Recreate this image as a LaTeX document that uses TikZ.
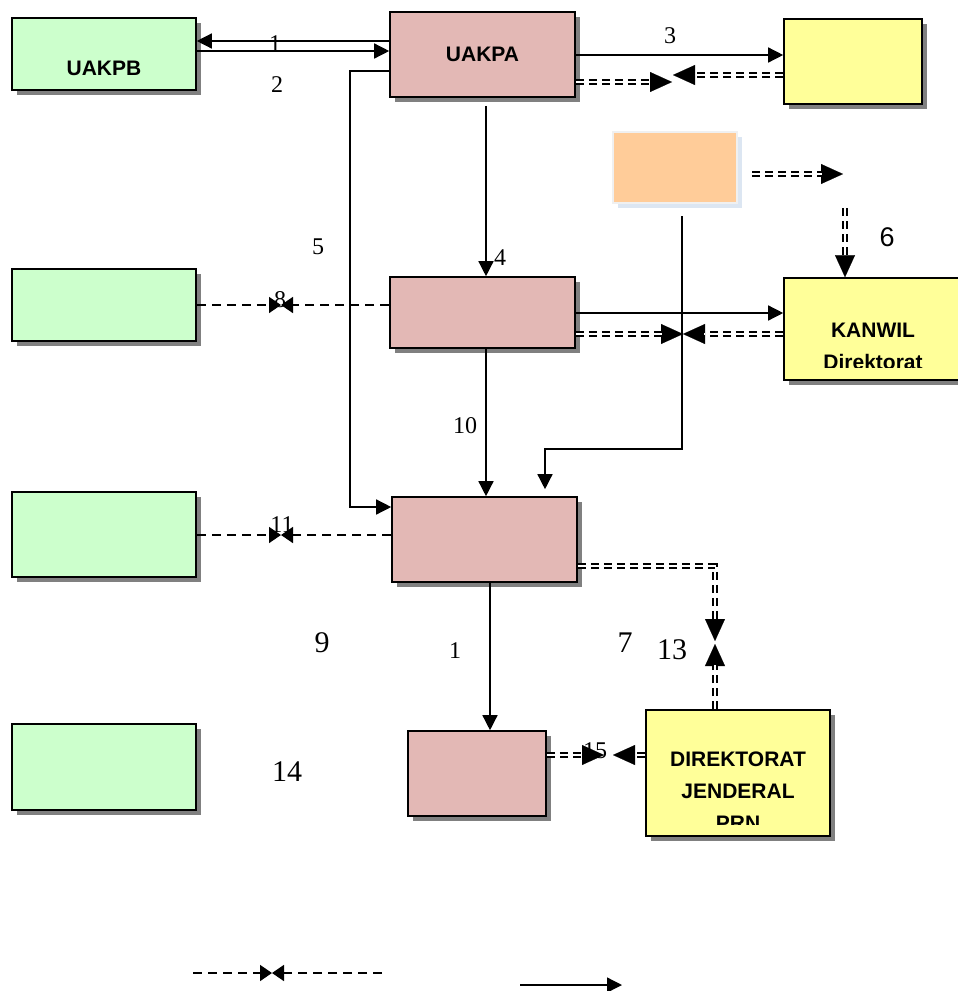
\documentclass[tikz,border=0pt]{standalone}
\usepackage{fontspec}
\setmainfont{Liberation Serif}
\setsansfont{Liberation Sans}
\usetikzlibrary{arrows.meta,shadows}
\definecolor{boxgreen}{RGB}{204,255,204}
\definecolor{boxpink}{RGB}{227,184,181}
\definecolor{boxyellow}{RGB}{255,255,153}
\definecolor{boxorange}{RGB}{255,204,153}
\definecolor{shadowgray}{RGB}{128,128,128}
\definecolor{shadowblue}{RGB}{220,230,242}
\definecolor{edgegray}{RGB}{240,240,240}

\begin{document}
\begin{tikzpicture}[x=1pt, y=-1pt,
    box/.style={draw, line width=1.6pt, inner sep=0pt,
      drop shadow={shadow xshift=5pt, shadow yshift=-5pt, fill=shadowgray, opacity=1}},
    boxtext/.style={font=\sffamily\bfseries\fontsize{21}{32}\selectfont, align=center},
    num/.style={font=\fontsize{24}{24}\selectfont, inner sep=0pt},
    bignum/.style={font=\fontsize{30}{30}\selectfont, inner sep=0pt},
    arr/.style={-{Triangle[length=15pt, width=15pt]}, line width=1.4pt},
    dsh/.style={-{Triangle[length=12pt, width=16pt]}, line width=1.6pt, dash pattern=on 9pt off 6pt},
    dbl/.style={draw=white, line width=0.1pt, -{Triangle[color=black, length=22pt, width=20pt]},
      postaction={draw=black, -, double, double distance=2.4pt, line width=2.2pt,
        dash pattern=on 8pt off 5pt, shorten >=21pt}}]
  \useasboundingbox (0,0) rectangle (958,991);
  \node[box, fill=boxgreen, minimum width=184pt, minimum height=72pt] (uakpb) at (104,54) {};
  \node[boxtext] (uakpbtxt) at (104,68) {UAKPB};
  \node[box, fill=boxpink, minimum width=185pt, minimum height=85pt, boxtext] (uakpa) at (482.5,54.5) {UAKPA};
  \node[box, fill=boxyellow, minimum width=138pt, minimum height=85pt] (yel1) at (853,61.5) {};
  \node[draw=edgegray, line width=2.5pt, fill=boxorange, minimum width=124pt, minimum height=71pt,
    drop shadow={shadow xshift=5pt, shadow yshift=-5pt, fill=shadowblue, opacity=1}] (org) at (675,167.5) {};
  \node[box, fill=boxgreen, minimum width=184pt, minimum height=72pt] (grn2) at (104,305) {};
  \node[box, fill=boxpink, minimum width=185pt, minimum height=71pt] (pnk2) at (482.5,312.5) {};
  \node[box, fill=boxyellow, minimum width=178pt, minimum height=102pt] (kanwil) at (873,329) {};
  \node[box, fill=boxgreen, minimum width=184pt, minimum height=85pt] (grn3) at (104,534.5) {};
  \node[box, fill=boxpink, minimum width=185pt, minimum height=85pt] (pnk3) at (484.5,539.5) {};
  \node[box, fill=boxgreen, minimum width=184pt, minimum height=86pt] (grn4) at (104,767) {};
  \node[box, fill=boxpink, minimum width=138pt, minimum height=85pt] (pnk4) at (477,773.5) {};
  \node[box, fill=boxyellow, minimum width=184pt, minimum height=126pt] (djpbn) at (738,773) {};
  \begin{scope}
    \clip (kanwil.north west) rectangle ([yshift=13pt]kanwil.south east);
    \node[boxtext] (kanwiltxt) at ([yshift=-17pt]kanwil.center) {KANWIL\\Direktorat};
  \end{scope}
  \begin{scope}
    \clip (djpbn.north west) rectangle ([yshift=12pt]djpbn.south east);
    \node[boxtext] (djtxt) at ([yshift=-18pt]djpbn.center) {DIREKTORAT\\JENDERAL\\PRN};
  \end{scope}
  \coordinate (m3a) at (672,82);
  \coordinate (m3b) at (673,75);
  \coordinate (c5) at (350,300);
  \coordinate (c7) at (545,449);
  \coordinate (m6) at (843,174);
  \coordinate (c6) at (845,208);
  \coordinate (m4) at (683,334);
  \coordinate (m8) at (281,305);
  \coordinate (m11) at (281,535);
  \coordinate (m13a) at (715,641);
  \coordinate (m13b) at (715,644);
  \coordinate (m15a) at (604,755);
  \coordinate (m15b) at (613,755);
  \coordinate (lga) at (193,973);
  \coordinate (lgm) at (272,973);
  \coordinate (lgb) at (382,973);
  \coordinate (lgc) at (520,985);
  \coordinate (lgd) at (622,985);
  \draw[arr] ([yshift=13.5pt]uakpa.west) -- ([yshift=13pt]uakpb.east);
  \draw[arr] ([yshift=3pt]uakpb.east) -- ([yshift=3.5pt]uakpa.west);
  \draw[arr] ([yshift=-0.5pt]uakpa.east) -- ([yshift=6.5pt]yel1.west);
  \draw[dbl] ([yshift=-27.5pt]uakpa.east) -- (m3a);
  \draw[dbl] ([yshift=-13.5pt]yel1.west) -- (m3b);
  \draw[arr, shorten <=8pt] ([xshift=3.5pt]uakpa.south) -- ([xshift=3.5pt]pnk2.north);
  \draw[arr] ([yshift=-16.5pt]uakpa.west) -| (c5) |- ([yshift=32.5pt]pnk3.west);
  \draw[arr] ([xshift=7pt, yshift=-12pt]org.south) |- (c7) -- ([xshift=60.5pt, yshift=7pt]pnk3.north);
  \draw[dbl] ([xshift=14pt, yshift=-6.5pt]org.east) -- (m6);
  \draw[dbl] (c6) -- ([xshift=-28pt]kanwil.north);
  \draw[arr] ([yshift=-0.5pt]pnk2.east) -- ([yshift=16pt]kanwil.west);
  \draw[dbl] ([yshift=-21.5pt]pnk2.east) -- (m4);
  \draw[dbl] ([yshift=-5pt]kanwil.west) -- (m4);
  \draw[dsh] (grn2.east) -- (m8);
  \draw[dsh] ([yshift=7.5pt]pnk2.west) -- (m8);
  \draw[arr] ([xshift=3.5pt]pnk2.south) -- ([xshift=1.5pt]pnk3.north);
  \draw[dsh] ([yshift=-0.5pt]grn3.east) -- (m11);
  \draw[dsh] ([yshift=4.5pt]pnk3.west) -- (m11);
  \draw[arr] ([xshift=5.5pt]pnk3.south) -- ([xshift=13pt]pnk4.north);
  \draw[dbl] ([yshift=-26.5pt]pnk3.east) -| (m13a);
  \draw[dbl] ([xshift=-23pt]djpbn.north) -- (m13b);
  \draw[dbl] ([yshift=18.5pt]pnk4.east) -- (m15a);
  \draw[dbl] ([yshift=18pt]djpbn.west) -- (m15b);
  \draw[dsh] (lga) -- (lgm);
  \draw[dsh] (lgb) -- (lgm);
  \draw[arr] (lgc) -- (lgd);
  \node[num, anchor=north] (n1) at (275,35) {1};
  \node[num, anchor=north] (n2) at (277,76) {2};
  \node[num, anchor=north] (n3) at (670,27) {3};
  \node[num, anchor=north] (n5) at (318,239) {5};
  \node[num, anchor=north] (n4) at (500,249) {4};
  \node[num, anchor=north] (n8) at (280,291) {8};
  \node[num, anchor=north] (n10) at (465,417) {10};
  \node[num, anchor=north] (n11) at (282,516) {11};
  \node[num, anchor=north] (n12) at (455,642) {1};
  \node[num, anchor=north] (n15) at (595,742) {15};
  \node[bignum] (n9) at (322,643) {9};
  \node[bignum] (n7) at (625,643) {7};
  \node[bignum] (n13) at (672,650) {13};
  \node[bignum] (n14) at (287,772) {14};
  \node[font=\sffamily\fontsize{27}{27}\selectfont, inner sep=0pt] (n6) at (887,237) {6};
\end{tikzpicture}
\end{document}
